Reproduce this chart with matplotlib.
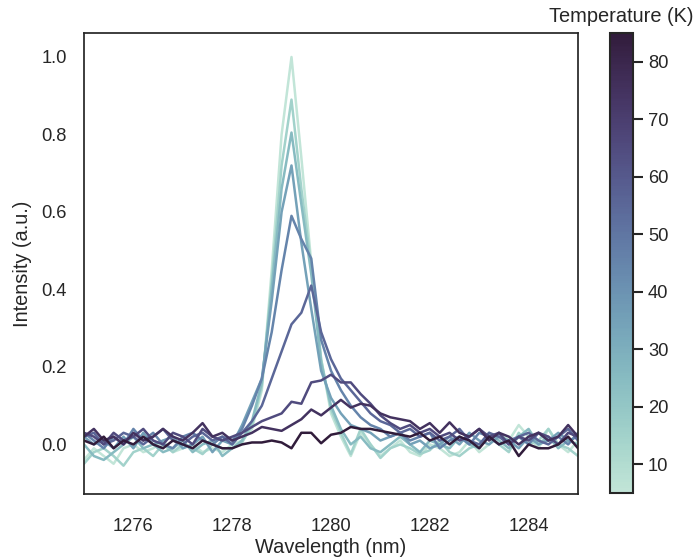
import numpy as np
import matplotlib
matplotlib.use("Agg")
import matplotlib.pyplot as plt
import seaborn as sns

sns.set_theme(style="white", context="notebook", font_scale=1.2)
plt.rcParams['font.family'] = ['Liberation Sans', 'DejaVu Sans']

# Wavelength grid (nm) and sample temperatures (K)
wavelength = np.round(np.arange(1275.0, 1285.01, 0.2), 1)
temperatures = [5, 15, 25, 35, 45, 55, 65, 75, 85]

# Normalised PL intensity for each temperature
i_5K = [-0.04, -0.01, -0.03, -0.05, -0.01, 0.0, -0.02, -0.01, 0.01, -0.02, -0.01, 0.0, -0.02, -0.01, -0.02, 0.0,
        0.01, 0.04, 0.14, 0.45, 0.80, 1.00, 0.74, 0.47, 0.22, 0.08, 0.02, -0.03, 0.03, 0.0, -0.03, -0.01, 0.01,
        -0.02, -0.03, 0.0, -0.01, -0.03, -0.02, 0.01, -0.02, 0.0, 0.03, 0.01, 0.05, 0.02, -0.01, 0.04, 0.0, -0.02, 0.01]
i_15K = [-0.05, -0.02, -0.01, -0.03, -0.055, -0.02, -0.01, -0.03, 0.0, -0.02, 0.0, -0.01, -0.025, 0.0, -0.01, -0.01,
         0.005, 0.05, 0.15, 0.42, 0.72, 0.89, 0.66, 0.46, 0.22, 0.09, 0.03, -0.025, 0.04, 0.0, -0.035, -0.01, 0.0,
         -0.01, -0.025, -0.015, 0.01, -0.02, -0.03, -0.01, 0.0, 0.02, 0.0, -0.02, 0.03, 0.0, 0.01, 0.04, 0.0, -0.01, -0.03]
i_25K = [0.0, -0.03, -0.04, -0.02, 0.0, 0.02, -0.01, 0.0, -0.02, -0.01, 0.01, -0.02, 0.0, 0.01, -0.03, -0.01,
         0.01, 0.06, 0.16, 0.40, 0.66, 0.805, 0.62, 0.44, 0.21, 0.10, 0.04, 0.0, 0.02, -0.01, -0.02, 0.0, 0.02,
         0.0, -0.02, 0.01, 0.0, -0.01, 0.02, 0.0, -0.01, 0.03, 0.01, -0.01, 0.02, 0.04, 0.0, 0.02, -0.01, 0.01, 0.0]
i_35K = [0.02, 0.0, 0.01, -0.01, 0.02, -0.01, 0.03, 0.0, 0.01, 0.02, -0.01, 0.0, 0.02, -0.02, 0.01, 0.0,
         0.05, 0.11, 0.17, 0.37, 0.60, 0.72, 0.52, 0.35, 0.19, 0.12, 0.08, 0.05, 0.04, 0.03, 0.01, 0.02, 0.03,
         0.0, 0.01, -0.01, 0.0, 0.02, 0.0, 0.03, 0.01, 0.0, 0.02, 0.01, -0.01, 0.02, 0.0, 0.01, 0.03, 0.01, 0.02]
i_45K = [0.03, 0.01, -0.01, 0.02, 0.0, 0.04, 0.01, 0.03, 0.0, -0.01, 0.02, 0.03, 0.01, 0.0, 0.02, 0.01,
         0.04, 0.10, 0.17, 0.29, 0.45, 0.59, 0.53, 0.48, 0.27, 0.19, 0.14, 0.10, 0.07, 0.05, 0.04, 0.02, 0.03,
         0.01, 0.02, 0.03, -0.01, 0.01, 0.02, 0.0, 0.03, 0.02, 0.0, 0.01, 0.02, 0.0, 0.03, 0.01, 0.02, 0.0, 0.03]
i_55K = [0.02, 0.03, 0.0, 0.01, 0.03, 0.02, 0.0, 0.02, 0.04, 0.01, 0.0, 0.02, 0.03, 0.01, 0.02, 0.0,
         0.03, 0.06, 0.10, 0.17, 0.24, 0.31, 0.34, 0.41, 0.29, 0.22, 0.17, 0.14, 0.11, 0.08, 0.06, 0.05, 0.03,
         0.04, 0.02, 0.03, 0.01, 0.02, 0.04, 0.01, 0.0, 0.03, 0.02, 0.0, 0.02, 0.03, 0.01, 0.0, 0.02, 0.04, 0.01]
i_65K = [0.03, 0.02, 0.0, 0.03, 0.01, 0.02, 0.04, 0.01, 0.0, 0.03, 0.02, 0.0, 0.04, 0.02, 0.01, 0.02,
         0.03, 0.045, 0.06, 0.07, 0.08, 0.11, 0.105, 0.16, 0.165, 0.18, 0.16, 0.16, 0.13, 0.105, 0.075, 0.055, 0.04,
         0.05, 0.03, 0.04, 0.02, 0.03, 0.01, 0.02, 0.04, 0.02, 0.03, 0.0, 0.02, 0.01, 0.03, 0.02, 0.0, 0.03, 0.02]
i_75K = [0.02, 0.04, 0.01, 0.02, 0.0, 0.03, 0.01, 0.02, 0.04, 0.02, 0.01, 0.03, 0.055, 0.02, 0.03, 0.01,
         0.02, 0.03, 0.045, 0.04, 0.035, 0.05, 0.065, 0.09, 0.075, 0.095, 0.115, 0.095, 0.105, 0.10, 0.08, 0.07, 0.065,
         0.06, 0.04, 0.055, 0.03, 0.057, 0.03, 0.02, 0.04, 0.01, 0.03, 0.02, 0.0, 0.02, 0.03, 0.01, 0.02, 0.05, 0.02]
i_85K = [0.01, 0.0, 0.02, -0.01, 0.01, 0.0, 0.02, 0.0, -0.01, 0.01, 0.0, -0.01, 0.01, 0.0, -0.01, -0.01,
         0.0, 0.005, 0.005, 0.01, 0.005, -0.01, 0.03, 0.03, 0.003, 0.025, 0.03, 0.045, 0.04, 0.04, 0.035, 0.03, 0.025,
         0.02, 0.03, 0.01, 0.02, 0.0, 0.02, 0.01, -0.01, 0.02, 0.0, 0.01, -0.03, 0.0, -0.01, -0.01, 0.0, 0.02, -0.01]

spectra = [i_5K, i_15K, i_25K, i_35K, i_45K, i_55K, i_65K, i_75K, i_85K]

xticks = [1276, 1278, 1280, 1282, 1284]
yticks = [0.0, 0.2, 0.4, 0.6, 0.8, 1.0]
cbar_ticks = [10, 20, 30, 40, 50, 60, 70, 80]

cmap = sns.cubehelix_palette(start=0.5, rot=-0.5, as_cmap=True)
norm = matplotlib.colors.Normalize(vmin=5, vmax=85)

fig = plt.figure(figsize=(6.97, 5.58), dpi=100)
ax = fig.add_axes([0.1205, 0.1147, 0.7088, 0.8262])
cax = fig.add_axes([0.8752, 0.1165, 0.033, 0.8244])

for temp, spec in zip(temperatures, spectra):
    ax.plot(wavelength, spec, color=cmap(norm(temp)), lw=1.8)

ax.set_xlim(1275, 1285)
ax.set_ylim(-0.128, 1.062)
ax.set_xticks(xticks)
ax.set_yticks(yticks)
ax.tick_params(axis="x", pad=11.5)
ax.tick_params(axis="y", pad=6.5)
ax.set_xlabel("Wavelength (nm)", labelpad=1.8)
ax.set_ylabel("Intensity (a.u.)", labelpad=6.5)
for s in ax.spines.values():
    s.set_color("#262626")

sm = matplotlib.cm.ScalarMappable(norm=norm, cmap=cmap)
cb = fig.colorbar(sm, cax=cax, ticks=cbar_ticks)
cb.outline.set_edgecolor("#262626")
cb.outline.set_linewidth(1.5)
cax.tick_params(length=7.2, width=1.5, color="#262626")
cax.set_title("Temperature (K)", fontsize=14.4, pad=8)

fig.savefig("out.png", dpi=100)
